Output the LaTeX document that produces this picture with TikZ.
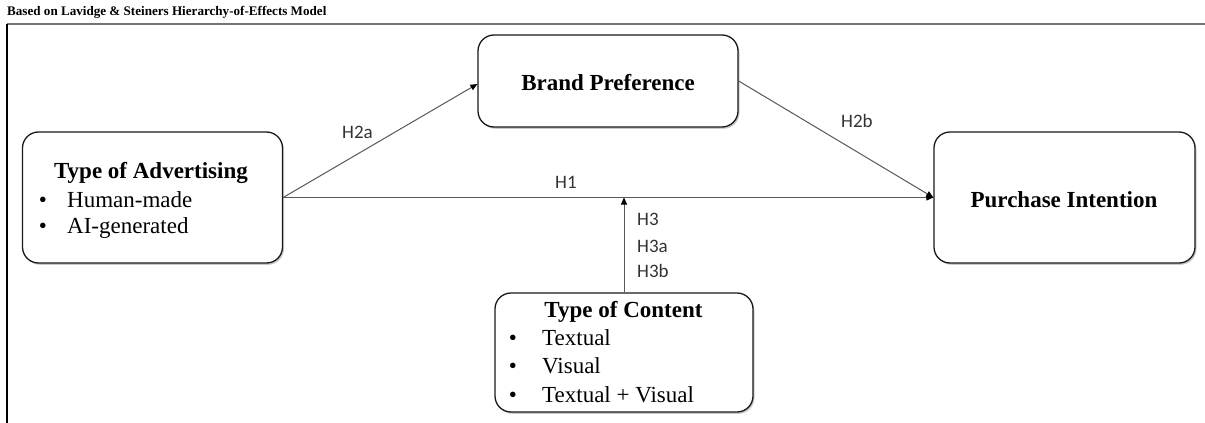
\documentclass[tikz,border=0pt]{standalone}
\usepackage{fontspec}
\setmainfont{Liberation Serif}
\newfontfamily\labfont{Carlito}
\usetikzlibrary{shadows,arrows.meta,calc}
\begin{document}
\begin{tikzpicture}[x=1pt,y=-1pt,
  box/.style={draw=black!90, line width=1.3pt, rounded corners=16pt, fill=white,
    drop shadow={shadow xshift=1.5pt, shadow yshift=-1.8pt, opacity=0.35, fill=black!60},
    inner sep=0pt},
  boxtitle/.style={font=\fontsize{23}{26}\selectfont\bfseries, inner sep=0pt, anchor=base},
  item/.style={font=\fontsize{23}{26}\selectfont, inner sep=0pt, anchor=base west},
  bul/.style={font=\fontsize{23}{26}\selectfont, inner sep=0pt, anchor=base},
  hyp/.style={font=\labfont\fontsize{19}{22}\selectfont, text=black!80, inner sep=0pt, anchor=base west},
  conn/.style={draw=black!65, line width=1pt, -{Triangle[length=7pt,width=6pt,color=black]}}
]
\useasboundingbox (0,0) rectangle (1205,423);
\fill[white] (0,0) rectangle (1205,423);
% frame
\draw[black!55, line width=2pt] (7,24) -- (1205,24);
\draw[black, line width=2pt] (7,24) -- (7,423);
\node[font=\fontsize{13.1}{15}\selectfont\bfseries, inner sep=0pt, anchor=base west] (title) at (7,15) {Based on Lavidge \& Steiners Hierarchy-of-Effects Model};

% boxes
\node[box, minimum width=260pt, minimum height=131pt] (adv) at (152.5,197.5) {};
\node[box, minimum width=260pt, minimum height=92pt] (bp) at (608,81) {};
\node[box, minimum width=261pt, minimum height=131pt] (pi) at (1064.5,197.5) {};
\node[box, minimum width=258pt, minimum height=119pt] (cont) at (624,352.5) {};

% adv text
\node[boxtitle] (advt) at (151,178) {Type of Advertising};
\node[bul] (advb1) at (43,207) {•};
\node[item] (advi1) at (67,207) {Human-made};
\node[bul] (advb2) at (43,233) {•};
\node[item] (advi2) at (67,233) {AI-generated};

% bp text
\node[boxtitle] (bpt) at (608,90) {Brand Preference};
% pi text
\node[boxtitle] (pit) at (1064,207) {Purchase Intention};

% content text
\node[boxtitle] (contt) at (623.5,317) {Type of Content};
\node[bul] (cb1) at (513,345) {•};
\node[item] (ci1) at (542,345) {Textual};
\node[bul] (cb2) at (513,373) {•};
\node[item] (ci2) at (542,373) {Visual};
\node[bul] (cb3) at (513,402) {•};
\node[item] (ci3) at (542,402) {Textual + Visual};

% connectors
\draw[conn] (adv.east) -- (pi.west);
\draw[conn] (adv.east) -- ($(bp.west)+(0,3)$);
\draw[conn] (bp.east) -- (pi.west);
\coordinate (h3end) at (cont.north |- adv.east);
\draw[conn] (cont.north) -- (h3end);

% labels
\node[hyp] (lh1) at (555,188) {H1};
\node[hyp] (lh2a) at (342,138) {H2a};
\node[hyp] (lh2b) at (841,127) {H2b};
\node[hyp] (lh3) at (637,225) {H3};
\node[hyp] (lh3a) at (637,252) {H3a};
\node[hyp] (lh3b) at (637,277) {H3b};
\end{tikzpicture}
\end{document}
